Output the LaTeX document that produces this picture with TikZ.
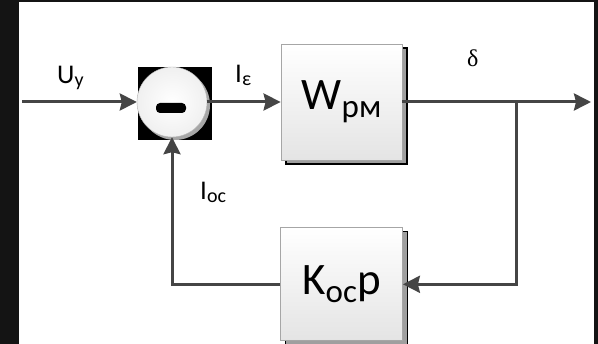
\documentclass[tikz,border=0pt]{standalone}
\usepackage{fontspec}
\setmainfont{Carlito}
\newfontfamily\deltafont{Liberation Serif}
\usetikzlibrary{arrows.meta,positioning,shadows}
\definecolor{FrameBlack}{HTML}{141414}
\definecolor{LineGray}{HTML}{454545}
\definecolor{FaceBottom}{HTML}{E4E4E4}
\newcommand{\lowsub}[3]{\raisebox{-#1}{\fontsize{#2}{#2}\selectfont #3}}

\begin{document}
\begin{tikzpicture}[x=1pt,y=-1pt,
 block/.style={draw=gray!70,line width=0.8pt,top color=white,bottom color=FaceBottom,
  minimum width=121pt,minimum height=116pt,inner sep=0pt,font=\fontsize{45}{45}\selectfont,
  general shadow={shadow xshift=5pt,shadow yshift=-4pt,fill=gray!75,draw=black,line width=1.2pt}},
 flow/.style={-{Stealth[length=17pt,width=17pt,inset=2pt]},line width=3pt,draw=LineGray,fill=none},
 sig/.style={inner sep=0pt,font=\fontsize{27}{27}\selectfont}]
% frame
\fill[FrameBlack] (0,0) rectangle (598,344);
\fill[white] (19,2) rectangle (594,344);
\useasboundingbox (0,0) rectangle (598,344);
% summing junction
\node[fill=black,minimum width=74pt,minimum height=73pt,inner sep=0pt] (sumbg) at (175,103.5) {};
\node[circle,minimum size=70pt,inner sep=0pt,draw=gray!60,inner color=white,outer color=gray!12,
 general shadow={shadow xshift=3pt,shadow yshift=-3pt,fill=gray!70}] (sum) at (172,102) {};
\node[fill=black,rounded corners=4pt,minimum width=30pt,minimum height=10pt,inner sep=0pt] (minus) at (171,108) {};
% blocks
\node[block] (wpm) at (341.5,102) {W\lowsub{8pt}{33}{рм}};
\node[block,minimum width=122pt,minimum height=113pt,below=67pt of wpm] (kos) {K\lowsub{8pt}{33}{ос}p};
\coordinate (in) at (22,102);
\coordinate (out) at (591,102);
\coordinate (branch) at (516,102);
% signals
\draw[flow] (in) -- (sum.west);
\draw[flow] (sum.east) -- (wpm.west);
\draw[flow] (wpm.east) -- (out);
\draw[flow] (branch) -- (branch |- kos.east) -- (kos.east);
\draw[flow] (kos.west) -| (sum.south);
% labels
\node[sig,anchor=base west] (uy) at (57,84) {U\lowsub{3pt}{20}{у}};
\node[sig,anchor=base west] (ieps) at (235,83) {I\lowsub{3pt}{20}{ε}};
\node[sig,anchor=base west] (ioc) at (200,200) {I\lowsub{3pt}{20}{ос}};
\node[sig,anchor=base west,font=\deltafont\fontsize{24}{24}\selectfont] (delta) at (467,67) {δ};
\end{tikzpicture}
\end{document}
